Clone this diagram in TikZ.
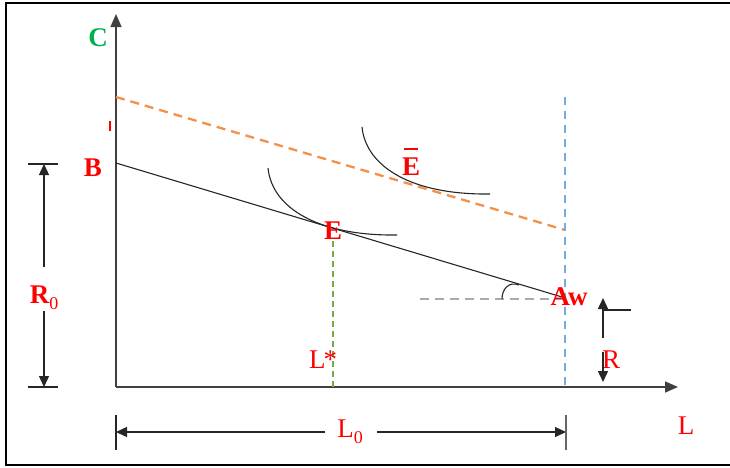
\documentclass[tikz,border=0pt]{standalone}
\usepackage{fontspec}
\setmainfont{Liberation Serif}
\usetikzlibrary{arrows.meta}
\definecolor{lblred}{RGB}{255,0,0}
\definecolor{cgreen}{RGB}{0,176,80}
\definecolor{dorange}{RGB}{244,144,74}
\definecolor{dblue}{RGB}{120,172,222}
\definecolor{dgreen}{RGB}{112,173,71}
\definecolor{dgray}{RGB}{170,170,170}
\begin{document}
\begin{tikzpicture}[x=1pt,y=-1pt,
  lbl/.style={text=lblred,font=\fontsize{27}{27}\selectfont,inner sep=0pt},
  blbl/.style={text=lblred,font=\fontsize{27}{27}\selectfont\bfseries,inner sep=0pt},
  axisline/.style={line width=1.5pt,draw=black!75,-{Triangle[length=13pt,width=11pt]}},
  dimline/.style={line width=1.4pt,draw=black!85,-{Triangle[length=11pt,width=10pt]}},
  tickline/.style={line width=1.3pt,draw=black!85},
  curve/.style={line width=1.1pt,draw=black!85},
  orangedash/.style={line width=2.3pt,draw=dorange,dash pattern=on 9pt off 6pt},
  bluedash/.style={line width=2.3pt,draw=dblue,dash pattern=on 8pt off 6pt},
  greendash/.style={line width=1.8pt,draw=dgreen,dash pattern=on 6pt off 4pt},
  graydash/.style={line width=1.8pt,draw=dgray,dash pattern=on 9pt off 6pt}
]
\path[use as bounding box] (0,0) rectangle (730,467);
% frame
\draw[line width=2pt] (731,3) -- (6,3) -- (6,465) -- (731,465);

% key coordinates
\coordinate (O) at (116,387);
\coordinate (Ytip) at (116,14);
\coordinate (Xtip) at (678,387);
\coordinate (Bp) at (116,163);
\coordinate (Ap) at (562,297);
\coordinate (Ep) at (333,230);
\coordinate (Otop) at (116,97);
\coordinate (Oend) at (565,230);
\coordinate (Btop) at (565,97);
\coordinate (Bbot) at (565,391);
\coordinate (Gtop) at (333,241);
\coordinate (Gbot) at (333,387);
\coordinate (Hl) at (420,299);
\coordinate (Hr) at (565,299);

% axes
\draw[axisline] (O) -- (Ytip);
\draw[axisline] (O) -- (Xtip);

% dashed lines
\draw[orangedash] (Otop) -- (Oend);
\draw[bluedash] (Btop) -- (Bbot);
\draw[greendash] (Gtop) -- (Gbot);
\draw[graydash] (Hl) -- (Hr);

% budget line
\draw[curve] (Bp) -- (Ap);

% indifference curves
\coordinate (I1s) at (268,168);
\coordinate (I1e) at (397,235);
\coordinate (I2s) at (362,127);
\coordinate (I2e) at (490,194);
\draw[curve] (I1s) .. controls (272,208) and (318,236) .. (I1e);
\draw[curve] (I2s) .. controls (366,167) and (412,195) .. (I2e);

% angle arc
\coordinate (Ang1) at (502,299);
\coordinate (Ang2) at (519,285);
\draw[curve] (Ang1) .. controls (502,289) and (509,281) .. (Ang2);

% labels
\node[text=cgreen,font=\fontsize{27}{27}\selectfont\bfseries,inner sep=0pt] (C) at (98,38) {C};
\coordinate (tk1) at (110,121);
\coordinate (tk2) at (110,131);
\draw[line width=2.6pt,draw=lblred] (tk1) -- (tk2);
\node[blbl] (B) at (93,168) {B};
\node[blbl] (E) at (333,231) {E};
\node[blbl] (Eb) at (411,167) {E};
\draw[line width=1.6pt,draw=lblred] ([xshift=2pt,yshift=9pt]Eb.north west) -- ([xshift=-2pt,yshift=9pt]Eb.north east);
\node[blbl] (Aw) at (569,297) {Aw};
\node[lbl] (Ls) at (323,360) {L\kern-2pt*};
\node[lbl] (R) at (611,360) {R};
\node[blbl] (R0) at (44,298) {R\raisebox{-0.22em}{\fontsize{18}{18}\selectfont\mdseries 0}};
\node[lbl] (L0) at (350,432) {L\raisebox{-0.22em}{\fontsize{18}{18}\selectfont 0}};
\node[lbl] (L) at (686,426) {L};

% R0 dimension
\coordinate (R0t) at (44,164);
\coordinate (R0b) at (44,387);
\coordinate (R0m1) at (44,267);
\coordinate (R0m2) at (44,311);
\draw[dimline] (R0m1) -- (R0t);
\draw[dimline] (R0m2) -- (R0b);
\draw[tickline] (28,164) -- (58,164);
\draw[tickline] (28,387) -- (58,387);

% L0 dimension
\coordinate (L0l) at (116,432);
\coordinate (L0r) at (566,432);
\coordinate (L0m1) at (325,432);
\coordinate (L0m2) at (377,432);
\draw[dimline] (L0m1) -- (L0l);
\draw[dimline] (L0m2) -- (L0r);
\draw[tickline] (116,415) -- (116,450);
\draw[tickline,draw=black!60] (566,415) -- (566,450);

% R arrows
\coordinate (Ru1) at (603,338);
\coordinate (Ru2) at (603,298);
\coordinate (Rd1) at (603,352);
\coordinate (Rd2) at (603,382);
\draw[dimline] (Ru1) -- (Ru2);
\draw[dimline] (Rd1) -- (Rd2);
\draw[tickline] (603,310) -- (631,310);
\end{tikzpicture}
\end{document}
